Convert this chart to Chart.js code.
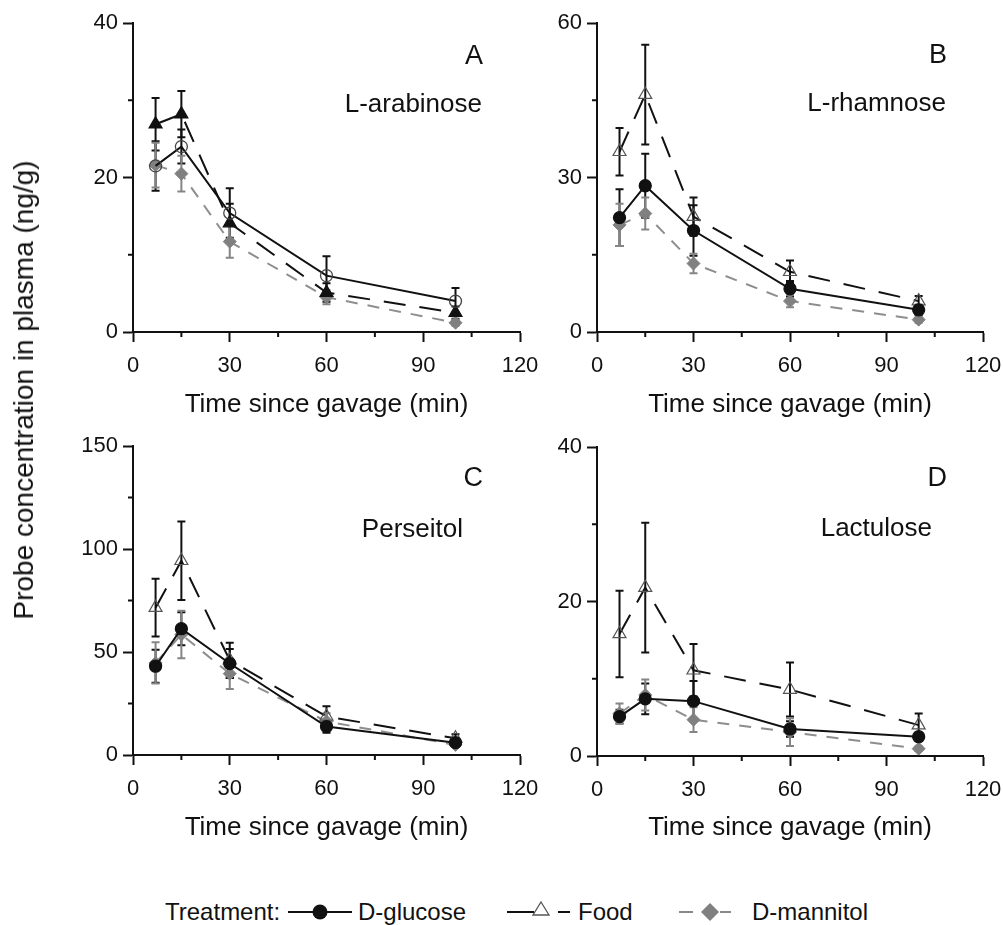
<!DOCTYPE html>
<html lang="en">
<head>
<meta charset="UTF-8">
<title>Probe concentration in plasma</title>
<script src="https://cdn.jsdelivr.net/npm/chart.js@4"></script>
<style>
  body { margin: 0; background: #fff; font-family: "Liberation Sans", Arial, sans-serif; color: #111; }
  #wrap { position: relative; width: 1003px; height: 925px; overflow: hidden; }
  .panel { position: absolute; }
  .tag { position: absolute; line-height: 1; white-space: nowrap; transform: translateY(-50%); }
  .letter { font-size: 27px; }
  .probe { font-size: 26px; }
  #ytitle { position: absolute; left: 24px; top: 390px; font-size: 28px; white-space: nowrap;
            line-height: 1; transform: translate(-50%, -50%) rotate(-90deg); }
  .leg { position: absolute; top: 912px; font-size: 24px; line-height: 1; transform: translateY(-50%); white-space: nowrap; }
  #legsvg { position: absolute; left: 0; top: 895px; }
</style>
</head>
<body>
<div id="wrap">
  <div class="panel" style="left:0;top:0"><canvas id="chartA" width="552" height="430"></canvas></div>
  <div class="panel" style="left:470px;top:0"><canvas id="chartB" width="545" height="430"></canvas></div>
  <div class="panel" style="left:0;top:423px"><canvas id="chartC" width="552" height="430"></canvas></div>
  <div class="panel" style="left:470px;top:423px"><canvas id="chartD" width="545" height="430"></canvas></div>

  <div class="tag letter" style="right:520px;top:55px">A</div>
  <div class="tag probe" style="right:521px;top:103px">L-arabinose</div>
  <div class="tag letter" style="right:56px;top:54px">B</div>
  <div class="tag probe" style="right:57px;top:102px">L-rhamnose</div>
  <div class="tag letter" style="right:520px;top:477px">C</div>
  <div class="tag probe" style="right:540px;top:528px">Perseitol</div>
  <div class="tag letter" style="right:56px;top:477px">D</div>
  <div class="tag probe" style="right:71px;top:527px">Lactulose</div>

  <div id="ytitle">Probe concentration in plasma (ng/g)</div>

  <svg id="legsvg" width="1003" height="30">
    <line x1="288" y1="17" x2="352" y2="17" stroke="#111" stroke-width="2"/>
    <circle cx="320" cy="17" r="7.5" fill="#111"/>
    <line x1="507" y1="17" x2="534" y2="17" stroke="#111" stroke-width="2"/>
    <polygon points="541,7 549,20 533,20" fill="#fff" stroke="#555" stroke-width="1.3"/>
    <line x1="558" y1="17" x2="570" y2="17" stroke="#111" stroke-width="2"/>
    <line x1="679" y1="17" x2="693" y2="17" stroke="#888" stroke-width="2"/>
    <polygon points="710,8 719,17 710,26 701,17" fill="#808080"/>
    <line x1="720" y1="17" x2="731" y2="17" stroke="#888" stroke-width="2"/>
  </svg>
  <div class="leg" style="left:165px">Treatment:</div>
  <div class="leg" style="left:358px">D-glucose</div>
  <div class="leg" style="left:578px">Food</div>
  <div class="leg" style="left:752px">D-mannitol</div>
</div>

<script>
// sampling times (min)
const times = [7, 15, 30, 60, 100];
const xTicks = [0, 30, 60, 90, 120];

// A: L-arabinose
const glucoseA = [21.5, 24.0, 15.4, 7.3, 4.0];
const glucoseErrA = [3.2, 2.2, 3.2, 2.5, 1.7];
const foodA = [26.9, 28.2, 14.1, 5.1, 2.5];
const foodErrA = [3.4, 3.0, 2.5, 1.2, 0.8];
const mannitolA = [21.6, 20.5, 11.7, 4.5, 1.2];
const mannitolErrA = [2.9, 2.3, 2.1, 0.9, 0.4];
const yTicksA = [0, 20, 40];

// B: L-rhamnose
const glucoseB = [22.2, 28.4, 19.7, 8.4, 4.3];
const glucoseErrB = [5.5, 6.2, 4.9, 1.5, 1.0];
const foodB = [35.0, 46.1, 22.4, 11.7, 6.0];
const foodErrB = [4.6, 9.7, 3.7, 2.2, 1.0];
const mannitolB = [20.8, 23.0, 13.3, 6.0, 2.4];
const mannitolErrB = [4.1, 3.1, 1.9, 1.2, 0.6];
const yTicksB = [0, 30, 60];

// C: Perseitol
const glucoseC = [43.1, 61.3, 44.4, 13.8, 6.0];
const glucoseErrC = [8, 8, 7, 3, 2];
const foodC = [71.5, 94.3, 46, 18.7, 8.1];
const foodErrC = [14, 19, 8.5, 5, 2];
const mannitolC = [44.7, 58.5, 39.5, 16.3, 4.9];
const mannitolErrC = [10, 11.5, 7.5, 4, 1];
const yTicksC = [0, 50, 100, 150];

// D: Lactulose
const glucoseD = [5.1, 7.4, 7.1, 3.5, 2.5];
const glucoseErrD = [0.9, 2.0, 2.6, 1.0, 0.5];
const foodD = [15.8, 21.8, 11.1, 8.6, 4.0];
const foodErrD = [5.6, 8.4, 3.4, 3.5, 1.5];
const mannitolD = [5.5, 7.9, 4.7, 3.1, 0.95];
const mannitolErrD = [1.3, 2.0, 1.6, 1.8, 0.3];
const yTicksD = [0, 20, 40];

const INK = '#111';
const GREY = '#858585';

// error bars under the lines/markers
const errorBars = {
  id: 'errorBars',
  beforeDatasetsDraw(chart) {
    const ctx = chart.ctx;
    const xs = chart.scales.x, ys = chart.scales.y;
    chart.data.datasets.forEach(ds => {
      ctx.save();
      ctx.strokeStyle = ds.errColor;
      ctx.lineWidth = 2;
      ds.data.forEach((p, j) => {
        const e = ds.errors[j];
        const x = xs.getPixelForValue(p.x);
        const top = ys.getPixelForValue(p.y + e);
        const bot = ys.getPixelForValue(Math.max(p.y - e, 0));
        ctx.beginPath();
        ctx.moveTo(x, top); ctx.lineTo(x, bot);
        ctx.moveTo(x - 4, top); ctx.lineTo(x + 4, top);
        ctx.moveTo(x - 4, bot); ctx.lineTo(x + 4, bot);
        ctx.stroke();
      });
      ctx.restore();
    });
  }
};

// short ticks between the labelled ones
const minorTicks = {
  id: 'minorTicks',
  afterDraw(chart) {
    const ctx = chart.ctx;
    const {x, y} = chart.scales;
    const area = chart.chartArea;
    ctx.save();
    ctx.strokeStyle = INK;
    ctx.lineWidth = 2;
    x.ticks.forEach(t => {
      if (t.label !== '') return;
      const px = x.getPixelForValue(t.value);
      ctx.beginPath(); ctx.moveTo(px, area.bottom); ctx.lineTo(px, area.bottom + 5); ctx.stroke();
    });
    y.ticks.forEach(t => {
      if (t.label !== '') return;
      const py = y.getPixelForValue(t.value);
      ctx.beginPath(); ctx.moveTo(area.left, py); ctx.lineTo(area.left - 5, py); ctx.stroke();
    });
    ctx.restore();
  }
};

function pts(vals) {
  return times.map((t, i) => ({x: t, y: vals[i]}));
}

function makePanel(id, cfg) {
  const canvas = document.getElementById(id);
  const H = canvas.height;
  const yMax = cfg.yTicks[cfg.yTicks.length - 1];
  const yMajor = cfg.yTicks[1];
  new Chart(canvas, {
    type: 'line',
    data: {
      datasets: [
        {
          label: 'D-glucose', data: pts(cfg.glucose), errors: cfg.glucoseErr, errColor: INK,
          borderColor: INK, borderWidth: 2,
          pointStyle: 'circle', pointRadius: 6,
          pointBackgroundColor: cfg.openGlucose ? 'rgba(255,255,255,0)' : INK,
          pointBorderColor: cfg.openGlucose ? '#444' : INK, pointBorderWidth: 1.3
        },
        {
          label: 'Food', data: pts(cfg.food), errors: cfg.foodErr, errColor: INK,
          borderColor: INK, borderWidth: 2, borderDash: [22, 14],
          pointStyle: 'triangle', pointRadius: 7.5,
          pointBackgroundColor: cfg.filledFood ? INK : 'rgba(255,255,255,0)',
          pointBorderColor: cfg.filledFood ? INK : '#555', pointBorderWidth: 1.2
        },
        {
          label: 'D-mannitol', data: pts(cfg.mannitol), errors: cfg.mannitolErr, errColor: GREY,
          borderColor: '#8e8e8e', borderWidth: 2, borderDash: [12, 10],
          pointStyle: 'rectRot', pointRadius: 6.5,
          pointBackgroundColor: '#808080', pointBorderColor: '#808080', pointBorderWidth: 1
        }
      ]
    },
    options: {
      responsive: false,
      animation: false,
      events: [],
      clip: false,
      layout: { padding: { left: 0, right: canvas.width - cfg.areaRight, top: cfg.areaTop, bottom: 6 } },
      elements: { line: { tension: 0 } },
      plugins: { legend: { display: false }, tooltip: { enabled: false } },
      scales: {
        x: {
          type: 'linear', min: 0, max: 120,
          afterFit(scale) { scale.height = H - 6 - cfg.areaBottom; },
          ticks: {
            stepSize: 15, autoSkip: false, maxRotation: 0, padding: 11,
            color: INK, font: { family: 'Liberation Sans', size: 22 },
            callback: v => xTicks.includes(v) ? String(v) : ''
          },
          grid: {
            drawOnChartArea: false, tickLength: 10, tickWidth: 2,
            tickColor: c => (c.tick && xTicks.includes(c.tick.value)) ? INK : 'rgba(0,0,0,0)'
          },
          border: { color: INK, width: 2 },
          title: {
            display: true, text: 'Time since gavage (min)', color: INK,
            font: { family: 'Liberation Sans', size: 26 }
          }
        },
        y: {
          type: 'linear', min: 0, max: yMax,
          afterFit(scale) { scale.width = cfg.areaLeft; },
          ticks: {
            stepSize: yMajor / 2, autoSkip: false, padding: 5,
            color: INK, font: { family: 'Liberation Sans', size: 22 },
            callback: v => cfg.yTicks.includes(v) ? String(v) : ''
          },
          grid: {
            drawOnChartArea: false, tickLength: 10, tickWidth: 2,
            tickColor: c => (c.tick && cfg.yTicks.includes(c.tick.value)) ? INK : 'rgba(0,0,0,0)'
          },
          border: { color: INK, width: 2 }
        }
      }
    },
    plugins: [errorBars, minorTicks]
  });
}

makePanel('chartA', {
  glucose: glucoseA, glucoseErr: glucoseErrA, food: foodA, foodErr: foodErrA,
  mannitol: mannitolA, mannitolErr: mannitolErrA, yTicks: yTicksA,
  openGlucose: true, filledFood: true,
  areaLeft: 133, areaRight: 520, areaTop: 23, areaBottom: 332
});
makePanel('chartB', {
  glucose: glucoseB, glucoseErr: glucoseErrB, food: foodB, foodErr: foodErrB,
  mannitol: mannitolB, mannitolErr: mannitolErrB, yTicks: yTicksB,
  areaLeft: 127, areaRight: 513, areaTop: 23, areaBottom: 332
});
makePanel('chartC', {
  glucose: glucoseC, glucoseErr: glucoseErrC, food: foodC, foodErr: foodErrC,
  mannitol: mannitolC, mannitolErr: mannitolErrC, yTicks: yTicksC,
  areaLeft: 133, areaRight: 520, areaTop: 23, areaBottom: 332
});
makePanel('chartD', {
  glucose: glucoseD, glucoseErr: glucoseErrD, food: foodD, foodErr: foodErrD,
  mannitol: mannitolD, mannitolErr: mannitolErrD, yTicks: yTicksD,
  areaLeft: 127, areaRight: 513, areaTop: 24, areaBottom: 333
});
</script>
</body>
</html>
